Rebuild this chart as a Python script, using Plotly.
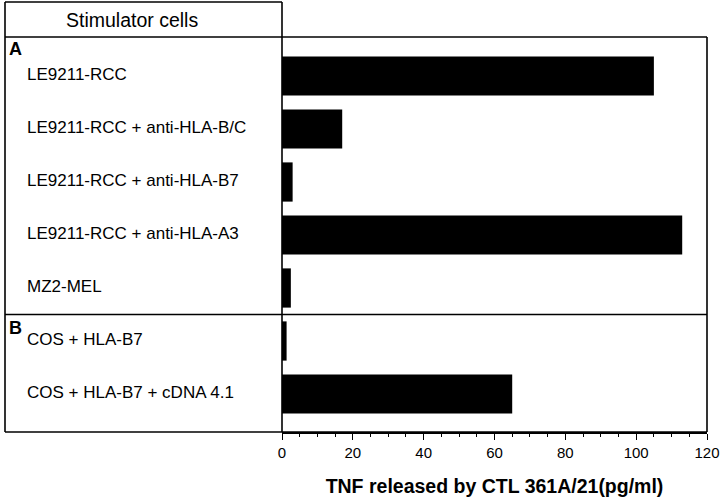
import plotly.graph_objects as go

categories = [
    "LE9211-RCC",
    "LE9211-RCC + anti-HLA-B/C",
    "LE9211-RCC + anti-HLA-B7",
    "LE9211-RCC + anti-HLA-A3",
    "MZ2-MEL",
    "COS + HLA-B7",
    "COS + HLA-B7 + cDNA 4.1",
]
tnf_values = [105, 17, 3, 113, 2.5, 1.3, 65]
group_labels = ["A", "B"]
x_ticks = [0, 20, 40, 60, 80, 100, 120]

positions = list(range(len(categories)))
FONT = "Liberation Sans, Arial, Helvetica, sans-serif"

fig = go.Figure()
fig.add_trace(go.Bar(
    x=tnf_values, y=positions, orientation="h",
    marker=dict(color="black", line=dict(width=0)),
    width=0.74, showlegend=False, hoverinfo="x",
))

L, R, T, B = 282, 13, 37, 69
W, H = 720, 501
pw = W - L - R
ph = H - T - B

def px_x(px):
    return (px - L) / pw

def px_y(py):
    return 1 - (py - T) / ph

line = dict(color="black", width=1.6)
shapes = [
    # header box
    dict(type="line", xref="paper", yref="paper", x0=px_x(5), x1=px_x(282), y0=px_y(2), y1=px_y(2), line=line),
    dict(type="line", xref="paper", yref="paper", x0=px_x(5), x1=px_x(5), y0=px_y(2), y1=px_y(432), line=line),
    dict(type="line", xref="paper", yref="paper", x0=px_x(282), x1=px_x(282), y0=px_y(2), y1=px_y(432), line=line),
    dict(type="line", xref="paper", yref="paper", x0=px_x(5), x1=1, y0=1, y1=1, line=line),
    dict(type="line", xref="paper", yref="paper", x0=1, x1=1, y0=1, y1=0, line=line),
    dict(type="line", xref="paper", yref="paper", x0=px_x(5), x1=1, y0=0, y1=0, line=line),
    # group separator between A and B
    dict(type="line", xref="paper", yref="y", x0=px_x(5), x1=1, y0=4.5, y1=4.5, line=line),
]

annotations = [
    dict(text="Stimulator cells", xref="paper", yref="paper", x=px_x(132), y=px_y(20),
         xanchor="center", yanchor="middle", showarrow=False,
         font=dict(family=FONT, size=19.5, color="black")),
]
for i, c in enumerate(categories):
    annotations.append(dict(text=c, xref="paper", yref="y", x=px_x(25), y=i,
                            xanchor="left", yanchor="middle", showarrow=False, yshift=2,
                            font=dict(family=FONT, size=17, color="black")))
for g, yv in zip(group_labels, [-0.52, 4.73]):
    annotations.append(dict(text="<b>" + g + "</b>", xref="paper", yref="y", x=px_x(7), y=yv,
                            xanchor="left", yanchor="middle", showarrow=False, yshift=-1,
                            font=dict(family=FONT, size=18, color="black")))

fig.update_layout(
    width=W, height=H,
    margin=dict(l=L, r=R, t=T, b=B, pad=0, autoexpand=False),
    paper_bgcolor="white", plot_bgcolor="white",
    shapes=shapes, annotations=annotations,
    bargap=0.26,
    xaxis=dict(
        range=[0, 120], tickvals=x_ticks, ticktext=[str(v) for v in x_ticks],
        automargin=False,
        ticks="outside", ticklen=6, tickwidth=1.4, tickcolor="black",
        showline=True, linecolor="black", linewidth=1.6,
        showgrid=False, zeroline=False,
        minor=dict(dtick=5, tick0=0, ticks="outside", ticklen=3, tickwidth=1.2, tickcolor="black", showgrid=False),
        tickfont=dict(family=FONT, size=15, color="black"),
        title=dict(text="<b>TNF released by CTL 361A/21(pg/ml)</b>",
                   font=dict(family=FONT, size=19.5, color="black"), standoff=20),
    ),
    yaxis=dict(
        range=[6.717, -0.736], showticklabels=False, ticks="", showgrid=False,
        zeroline=False, showline=False, automargin=False,
    ),
)

fig.write_html(
    "out.html",
    config={"displayModeBar": False},
    post_script="document.body.style.margin='0';document.body.style.padding='0';document.body.style.overflow='hidden';",
)
